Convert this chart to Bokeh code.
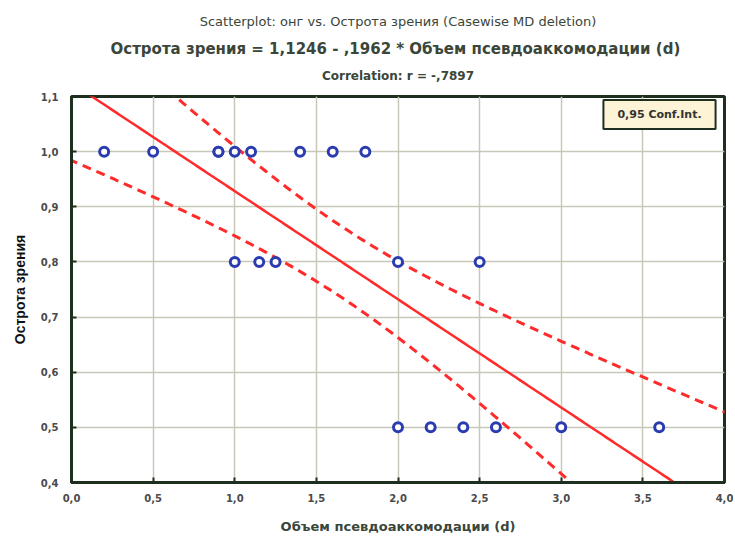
import numpy as np
from bokeh.plotting import figure
from bokeh.models import Range1d, FixedTicker, Label, Title
from bokeh.embed import file_html
from bokeh.resources import INLINE

# ---- data ----
x_vals = [0.2, 0.5, 0.9, 0.9, 1.0, 1.1, 1.4, 1.6, 1.8,
          1.0, 1.15, 1.25, 2.0, 2.5,
          2.0, 2.2, 2.4, 2.6, 3.0, 3.6]
y_vals = [1.0, 1.0, 1.0, 1.0, 1.0, 1.0, 1.0, 1.0, 1.0,
          0.8, 0.8, 0.8, 0.8, 0.8,
          0.5, 0.5, 0.5, 0.5, 0.5, 0.5]
intercept = 1.1246
slope = -0.1962
t_crit = 2.101  # t(0.975, df=18)

x_ticks = [0.0, 0.5, 1.0, 1.5, 2.0, 2.5, 3.0, 3.5, 4.0]
x_tick_labels = ["0,0", "0,5", "1,0", "1,5", "2,0", "2,5", "3,0", "3,5", "4,0"]
y_ticks = [0.4, 0.5, 0.6, 0.7, 0.8, 0.9, 1.0, 1.1]
y_tick_labels = ["0,4", "0,5", "0,6", "0,7", "0,8", "0,9", "1,0", "1,1"]

title1 = "Scatterplot: oнг vs. Острота зрения (Casewise MD deletion)"
title2 = "Острота зрения = 1,1246 - ,1962  * Объем псевдоаккомодации (d)"
title3 = "Correlation: r = -,7897"
x_label = "Объем псевдоаккомодации (d)"
y_label = "Острота зрения"
legend_text = "0,95 Conf.Int."

# ---- regression & confidence band ----
xa = np.array(x_vals)
ya = np.array(y_vals)
n = len(xa)
xbar = xa.mean()
sxx = ((xa - xbar) ** 2).sum()
resid = ya - (intercept + slope * xa)
s = np.sqrt((resid ** 2).sum() / (n - 2))
xg = np.linspace(-0.1, 4.1, 300)
yfit = intercept + slope * xg
half = t_crit * s * np.sqrt(1.0 / n + (xg - xbar) ** 2 / sxx)

dark = "#1f2f1f"
txt = "#3a463a"

p = figure(width=733, height=536, output_backend="svg", toolbar_location=None,
           x_range=Range1d(0, 4), y_range=Range1d(0.4, 1.1),
           min_border_left=71, min_border_right=9, min_border_top=96,
           min_border_bottom=54, background_fill_color="white",
           border_fill_color="white")

p.outline_line_color = dark
p.outline_line_width = 3

for ax in (p.xaxis[0], p.yaxis[0]):
    ax.axis_line_color = dark
    ax.axis_line_width = 3
    ax.major_tick_in = 5
    ax.major_tick_out = 0
    ax.major_tick_line_color = dark
    ax.major_tick_line_width = 2
    ax.minor_tick_line_color = None
    ax.major_label_text_font = "DejaVu Sans"
    ax.major_label_text_font_style = "bold"
    ax.major_label_text_font_size = "10px"
    ax.major_label_text_color = "#4a4a4a"

p.xaxis.ticker = FixedTicker(ticks=x_ticks)
p.xaxis.major_label_overrides = {t: l for t, l in zip(x_ticks, x_tick_labels)}
p.yaxis.ticker = FixedTicker(ticks=y_ticks)
p.yaxis.major_label_overrides = {t: l for t, l in zip(y_ticks, y_tick_labels)}
p.xaxis.major_label_standoff = 11
p.yaxis.major_label_standoff = 13

p.xaxis.axis_label = x_label
p.xaxis.axis_label_text_font = "DejaVu Sans"
p.xaxis.axis_label_text_font_style = "bold"
p.xaxis.axis_label_text_font_size = "13px"
p.xaxis.axis_label_text_color = txt
p.xaxis.axis_label_standoff = 14

p.yaxis.axis_label = y_label
p.yaxis.axis_label_text_font = "Liberation Sans"
p.yaxis.axis_label_text_font_style = "bold"
p.yaxis.axis_label_text_font_size = "14px"
p.yaxis.axis_label_text_color = "#111111"
p.yaxis.axis_label_standoff = 10

p.grid.grid_line_color = "#c8c8b8"
p.grid.grid_line_width = 1.5

red = "#ff2a2a"
p.line(xg, yfit, line_color=red, line_width=2.5)
p.line(xg, yfit - half, line_color=red, line_width=3, line_dash="9 6")
p.line(xg, yfit + half, line_color=red, line_width=3, line_dash="9 6")

p.scatter(x_vals, y_vals, marker="circle", size=9, fill_color="white",
          line_color="#2b3cb0", line_width=3)

# spacer between frame and titles
p.add_layout(Title(text=" ", text_font_size="6px", standoff=1), "above")
# titles (nearest to the frame first)
for t, fs, st, so in [(title3, "12px", "bold", 9),
                      (title2, "15px", "bold", 9),
                      (title1, "13px", "normal", 9)]:
    p.add_layout(Title(text=t, align="center", text_font="DejaVu Sans",
                       text_font_size=fs, text_font_style=st, text_color=txt,
                       standoff=so), "above")

p.add_layout(Label(x=588, y=368, x_units="screen", y_units="screen",
                   text=legend_text, text_align="center", text_baseline="middle",
                   text_font="DejaVu Sans", text_font_size="11px",
                   text_font_style="bold", text_color="#333333",
                   background_fill_color="#fdf3d6", border_line_color=dark,
                   border_line_width=2,
                   padding=dict(left=14, right=14, top=8, bottom=8)))

open("out.html", "w").write(file_html(p, INLINE))
